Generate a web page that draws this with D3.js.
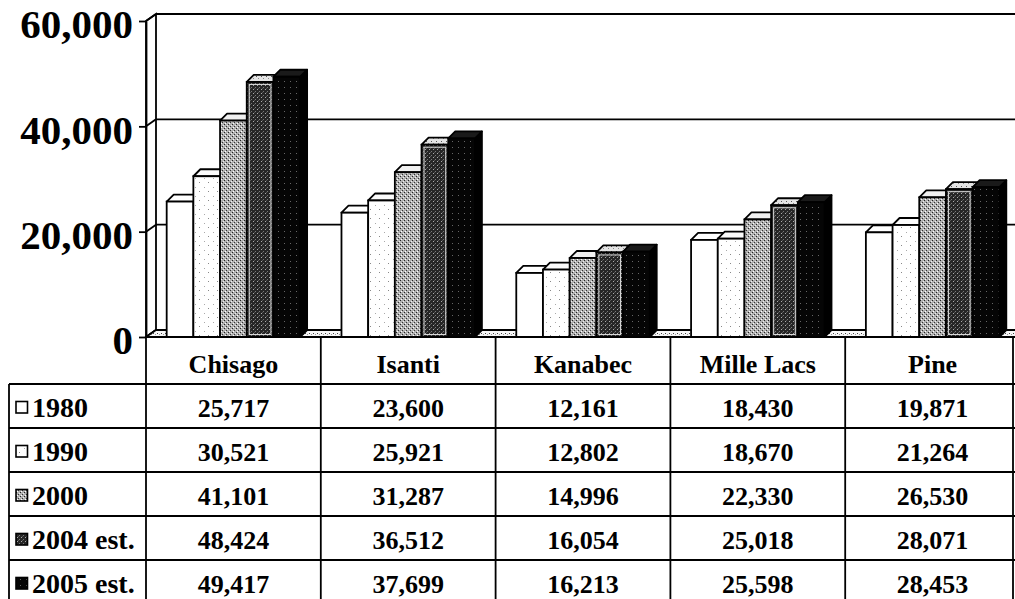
<!DOCTYPE html>
<html>
<head>
<meta charset="utf-8">
<script src="https://cdn.jsdelivr.net/npm/d3@7"></script>
<style>
  html, body { margin: 0; padding: 0; background: #fff; }
  svg { display: block; }
  text { font-family: "Liberation Serif", "Times New Roman", serif; font-weight: bold; fill: #000; }
</style>
</head>
<body>
<div id="chart"></div>
<script>
// ---- data ----
const categories = ["Chisago", "Isanti", "Kanabec", "Mille Lacs", "Pine"];
const seriesNames = ["1980", "1990", "2000", "2004 est.", "2005 est."];
const v1980 = [25717, 23600, 12161, 18430, 19871];
const v1990 = [30521, 25921, 12802, 18670, 21264];
const v2000 = [41101, 31287, 14996, 22330, 26530];
const v2004 = [48424, 36512, 16054, 25018, 28071];
const v2005 = [49417, 37699, 16213, 25598, 28453];
const yTicks = [0, 20000, 40000, 60000];

const seriesValues = [v1980, v1990, v2000, v2004, v2005];

// ---- layout ----
const W = 1015, H = 599;
const svg = d3.select("#chart").append("svg").attr("width", W).attr("height", H);

const xCat = d3.scaleBand().domain(categories).range([146, 1020]).paddingInner(0).paddingOuter(0);
const xSer = d3.scaleBand().domain(seriesNames).range([0, xCat.bandwidth()]).paddingInner(0).paddingOuter(0.775);
const y = d3.scaleLinear().domain([0, 60000]).range([337, 21]);

const wall = { dx: 10, dy: -7 };
const bar = { dx: 7, dy: -7 };

// ---- patterns ----
const defs = svg.append("defs");
function pattern(id, size, base, dots) {
  const p = defs.append("pattern").attr("id", id).attr("width", size).attr("height", size)
    .attr("patternUnits", "userSpaceOnUse");
  p.append("rect").attr("width", size).attr("height", size).attr("fill", base);
  dots.forEach(d => p.append("rect").attr("x", d[0]).attr("y", d[1]).attr("width", 1).attr("height", 1).attr("fill", d[2]));
}
pattern("p1990", 9, "#ffffff", [[1, 2, "#888"], [6, 7, "#aaa"]]);
pattern("p2000", 4, "#b0b0b0", [[0, 0, "#222"], [2, 2, "#333"], [1, 3, "#fff"], [3, 1, "#eee"]]);
pattern("p2004", 4, "#262626", [[1, 1, "#aaa"], [3, 3, "#777"], [2, 0, "#555"]]);
pattern("p2005", 6, "#050505", [[2, 3, "#666"]]);
pattern("pTop", 5, "#e4e4e4", [[1, 1, "#555"], [3, 3, "#888"]]);
pattern("pFloor", 4, "#f6f6f6", [[1, 1, "#444"], [3, 2, "#999"]]);

const frontFill = ["#ffffff", "url(#p1990)", "url(#p2000)", "url(#p2004)", "url(#p2005)"];
const topFill = ["#ffffff", "#fbfbfb", "#f0f0f0", "url(#pTop)", "#1a1a1a"];
const sideFill = ["#f4f4f4", "#eeeeee", "#888888", "#222222", "#000000"];

const lw = 1.8;

// ---- walls ----
const xL = 146, xR = 1020;
svg.append("rect").attr("x", xL + wall.dx).attr("y", y(60000) + wall.dy)
  .attr("width", xR - xL).attr("height", y(0) - y(60000)).attr("fill", "#fff");
svg.append("polygon")
  .attr("points", [[xL, y(60000)], [xL + wall.dx, y(60000) + wall.dy], [xL + wall.dx, y(0) + wall.dy], [xL, y(0)]].map(p => p.join(",")).join(" "))
  .attr("fill", "#fff").attr("stroke", "#000").attr("stroke-width", lw);

yTicks.forEach(t => {
  svg.append("line").attr("x1", xL + wall.dx).attr("x2", W).attr("y1", y(t) + wall.dy).attr("y2", y(t) + wall.dy)
    .attr("stroke", "#000").attr("stroke-width", lw);
  svg.append("line").attr("x1", xL).attr("x2", xL + wall.dx).attr("y1", y(t)).attr("y2", y(t) + wall.dy)
    .attr("stroke", "#000").attr("stroke-width", lw);
});

svg.append("polygon")
  .attr("points", [[xL, y(0)], [xL + wall.dx, y(0) + wall.dy], [xR, y(0) + wall.dy], [xR, y(0)]].map(p => p.join(",")).join(" "))
  .attr("fill", "url(#pFloor)").attr("stroke", "#000").attr("stroke-width", lw);

// ---- bars ----
const gBars = svg.append("g");
categories.forEach((c, ci) => {
  seriesNames.forEach((s, si) => {
    const v = seriesValues[si][ci];
    const x = xCat(c) + xSer(s);
    const w = xSer.bandwidth();
    const yt = y(v), yb = y(0);
    const pts = a => a.map(p => p.join(",")).join(" ");
    gBars.append("polygon")
      .attr("points", pts([[x + w, yt], [x + w + bar.dx, yt + bar.dy], [x + w + bar.dx, yb + bar.dy], [x + w, yb]]))
      .attr("fill", sideFill[si]).attr("stroke", "#000").attr("stroke-width", lw).attr("stroke-linejoin", "round");
    gBars.append("polygon")
      .attr("points", pts([[x, yt], [x + bar.dx, yt + bar.dy], [x + w + bar.dx, yt + bar.dy], [x + w, yt]]))
      .attr("fill", topFill[si]).attr("stroke", "#000").attr("stroke-width", lw).attr("stroke-linejoin", "round");
    gBars.append("rect").attr("x", x).attr("y", yt).attr("width", w).attr("height", yb - yt)
      .attr("fill", frontFill[si]).attr("stroke", "#000").attr("stroke-width", lw);
    if (si === 3) {
      gBars.append("rect").attr("x", x + 2.5).attr("y", yt + 2.5).attr("width", w - 5).attr("height", yb - yt - 5)
        .attr("fill", "none").attr("stroke", "#d8d8d8").attr("stroke-width", 1);
    }
  });
});

// ---- y axis ----
const yAxis = d3.axisLeft(y).tickValues(yTicks).tickSize(7).tickSizeOuter(0).tickFormat(d3.format(","));
const gy = svg.append("g").attr("transform", `translate(${xL},0)`).call(yAxis);
gy.select(".domain").attr("stroke", "#000").attr("stroke-width", lw);
gy.selectAll(".tick line").attr("stroke", "#000").attr("stroke-width", lw);
gy.selectAll(".tick text")
  .attr("x", -13).attr("dy", "0.41em")
  .style("font-family", '"Liberation Serif", "Times New Roman", serif')
  .style("font-weight", "bold").style("font-size", "41px").attr("fill", "#000");

// ---- data table ----
const headerTop = y(0), headerBottom = 384, rowH = 44;
const tableLeft = 9, tableRight = 1013;
const gT = svg.append("g");
const fs = 26, fsLeg = 28;

gT.append("line").attr("x1", xL).attr("x2", W).attr("y1", headerTop).attr("y2", headerTop)
  .attr("stroke", "#000").attr("stroke-width", lw);
for (let i = 0; i <= seriesNames.length; i++) {
  const yy = headerBottom + i * rowH;
  gT.append("line").attr("x1", tableLeft).attr("x2", W).attr("y1", yy).attr("y2", yy)
    .attr("stroke", "#000").attr("stroke-width", lw);
}
gT.append("line").attr("x1", xL).attr("x2", xL).attr("y1", headerTop).attr("y2", H).attr("stroke", "#000").attr("stroke-width", lw);
categories.slice(1).forEach(c => {
  gT.append("line").attr("x1", xCat(c)).attr("x2", xCat(c)).attr("y1", headerTop).attr("y2", H)
    .attr("stroke", "#000").attr("stroke-width", lw);
});
gT.append("line").attr("x1", tableLeft).attr("x2", tableLeft).attr("y1", headerBottom).attr("y2", H).attr("stroke", "#000").attr("stroke-width", lw);
gT.append("line").attr("x1", tableRight).attr("x2", tableRight).attr("y1", headerTop).attr("y2", H).attr("stroke", "#000").attr("stroke-width", lw);

categories.forEach(c => {
  gT.append("text").attr("x", xCat(c) + xCat.bandwidth() / 2).attr("y", headerBottom - 11)
    .attr("text-anchor", "middle").style("font-size", fs + "px").text(c);
});

const fmt = d3.format(",");
seriesNames.forEach((s, si) => {
  const top = headerBottom + si * rowH;
  const base = top + 33;
  gT.append("rect").attr("x", 16).attr("y", base - 15.5).attr("width", 11.5).attr("height", 11.5)
    .attr("fill", frontFill[si]).attr("stroke", "#000").attr("stroke-width", 1.6);
  gT.append("text").attr("x", 32).attr("y", base).style("font-size", fsLeg + "px").text(s);
  categories.forEach((c, ci) => {
    gT.append("text").attr("x", xCat(c) + xCat.bandwidth() / 2).attr("y", base)
      .attr("text-anchor", "middle").style("font-size", fs + "px").text(fmt(seriesValues[si][ci]));
  });
});
</script>
</body>
</html>
